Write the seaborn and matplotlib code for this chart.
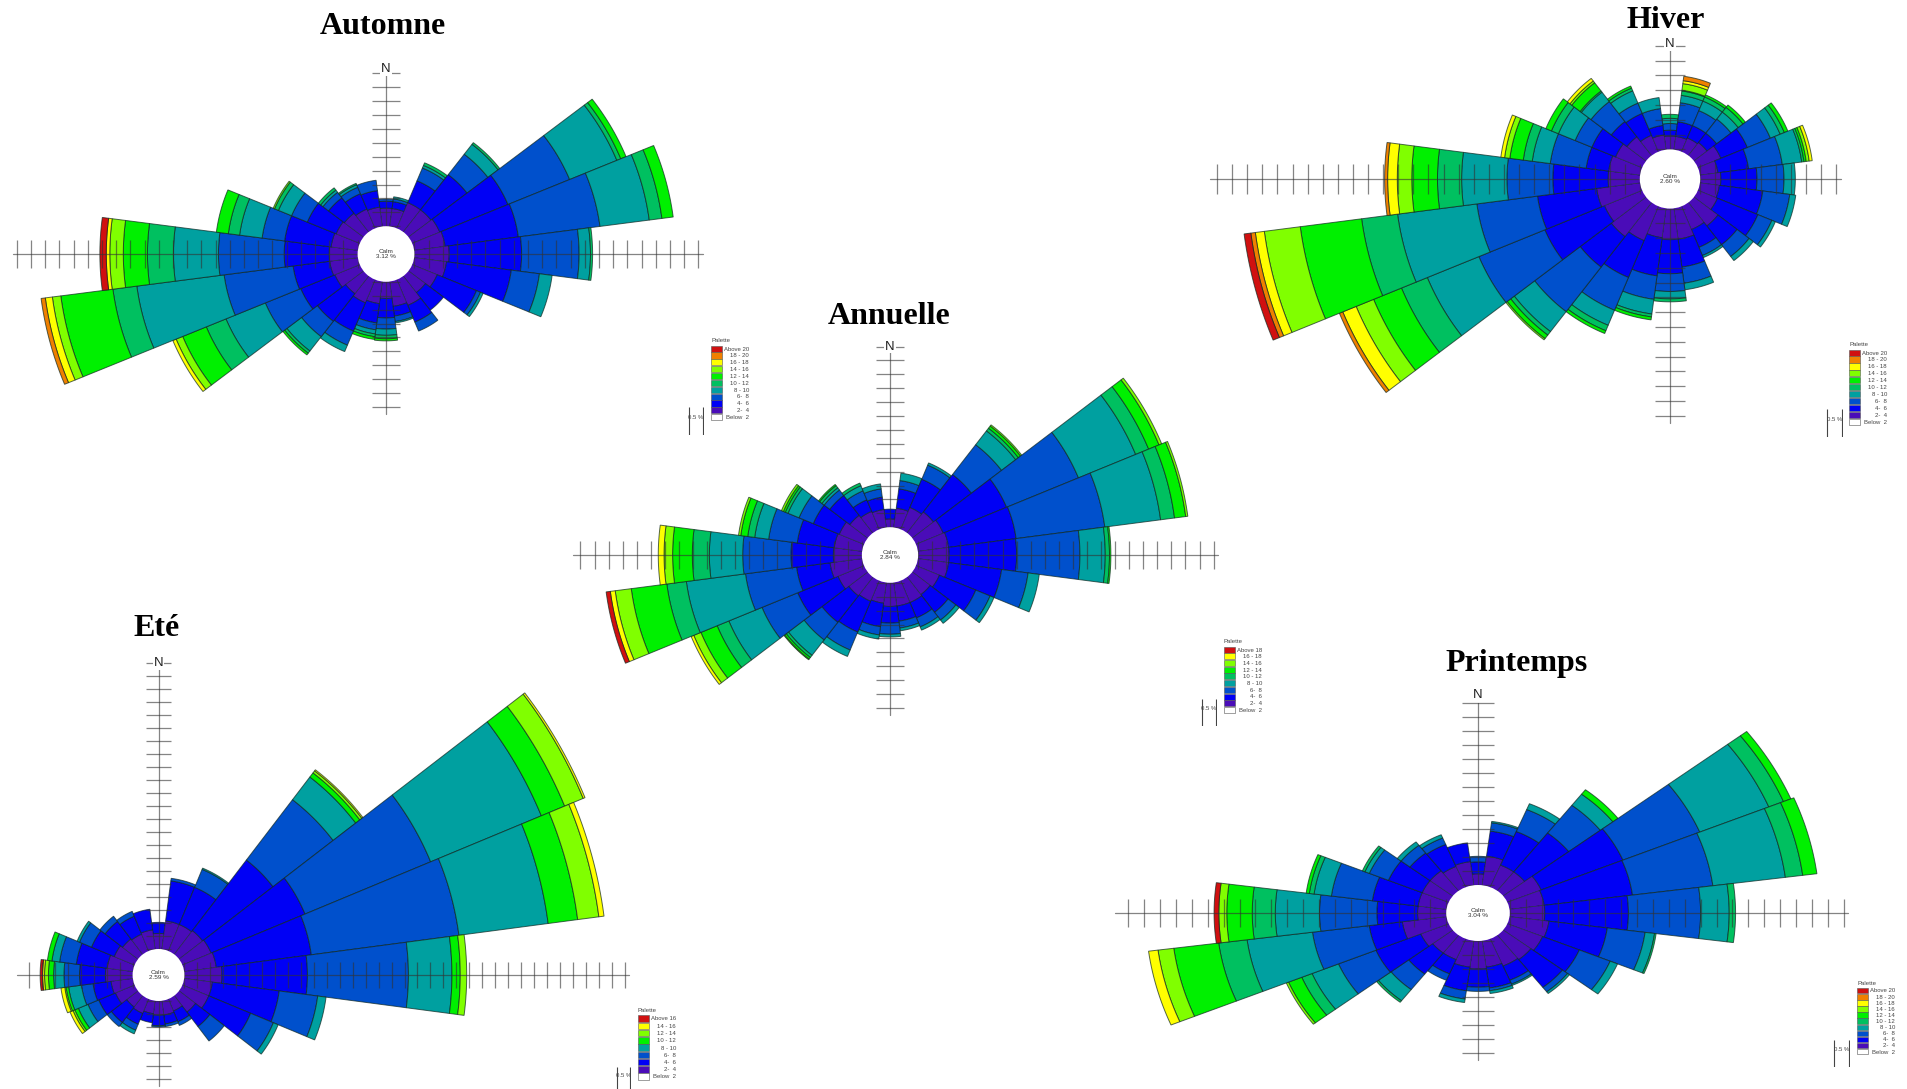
import numpy as np
import matplotlib
matplotlib.use("Agg")
import matplotlib.pyplot as plt
from matplotlib.patches import Ellipse, Rectangle
import seaborn as sns

sns.set_theme(style="white")
plt.rcParams["font.family"] = ["Liberation Sans", "DejaVu Sans"]

W, H = 1907, 1089

# direction of each sector, degrees clockwise from north
bearings = list(range(0, 360, 15))

# outer radius of every speed class per sector, in scale ticks (1 tick = 0.5 %)
automne = [
    [3.3, 3.8, 3.95], [3.3, 3.8, 4.0, 4.15], [4.0, 5.7, 6.7, 6.9, 7.1], [4.0, 7.2, 9.05, 9.95, 10.1],
    [4.1, 9.3, 14.0, 17.6, 17.9, 18.3], [4.2, 9.4, 15.2, 18.7, 19.6, 20.4], [4.45, 9.55, 13.6, 14.4, 14.55],
    [4.3, 8.9, 10.9, 11.8], [3.9, 6.9, 7.2, 7.4], [3.5, 5.1], [4.0, 5.3, 6.0], [3.8, 4.5, 4.9, 5.0],
    [3.2, 4.6, 5.4, 5.85, 6.1, 6.25], [3.6, 5.0, 5.5, 5.8, 6.0, 6.2], [3.8, 6.0, 7.1, 7.6],
    [3.6, 6.1, 7.5, 8.8, 9.0, 9.15], [3.9, 6.5, 9.2, 12.2, 13.7, 15.5, 16.0, 16.25],
    [4.0, 6.6, 11.5, 17.7, 19.4, 23.1, 23.7, 24.2, 24.5], [4.0, 7.17, 11.8, 14.97, 16.8, 18.5, 19.45, 19.7, 19.7, 20.15],
    [3.9, 7.2, 8.8, 10.4, 11.2, 12.05], [3.8, 6.0, 7.2, 8.2, 8.5, 8.5, 8.6], [3.7, 5.1, 5.6, 5.8, 6.0],
    [3.5, 4.7, 5.2, 5.4, 5.5], [3.4, 4.6, 5.35],
]
annuelle = [
    [2.6, 3.3], [3.4, 4.8, 5.4, 5.94], [3.7, 5.9, 7.0, 7.17], [3.9, 7.3, 10.0, 11.26, 11.5, 11.7, 11.8],
    [4.1, 8.97, 14.5, 18.9, 19.9, 20.7, 20.9], [4.2, 9.04, 15.4, 19.4, 20.4, 21.2, 21.35], [4.2, 9.0, 13.5, 15.3, 15.6, 15.7],
    [4.2, 8.0, 9.9, 10.7], [3.8, 6.6, 7.7, 8.0], [3.6, 5.2, 5.9, 6.2], [3.7, 4.9, 5.6, 5.85], [3.7, 4.8, 5.3, 5.5],
    [3.7, 4.9, 5.7, 5.9], [3.5, 5.2, 5.8, 6.1], [3.6, 6.0, 7.4, 7.9], [3.7, 6.1, 7.7, 9.1, 9.3, 9.45, 9.5],
    [4.0, 7.1, 9.85, 12.4, 13.3, 14.55, 15.1, 15.3], [4.3, 6.7, 10.36, 14.6, 16.0, 18.55, 19.7, 20.05, 20.35],
    [4.03, 7.04, 10.47, 12.84, 14.05, 15.45, 16.06, 16.47], [4.0, 6.65, 8.7, 9.7, 10.2, 10.7, 10.86],
    [3.9, 5.9, 7.0, 7.85, 8.05, 8.2, 8.35], [3.6, 5.4, 5.9, 6.1, 6.3, 6.4], [3.4, 4.3, 5.0, 5.4, 5.6], [3.3, 4.2, 4.8, 5.16],
]
hiver = [
    [2.9, 3.3, 3.75, 4.1, 4.37], [2.9, 3.9, 5.2, 5.7, 6.0, 6.05, 6.5, 6.7, 7.0], [3.0, 3.9, 5.0, 5.7, 6.0, 6.15],
    [3.1, 3.9, 5.1, 5.7, 6.1, 6.3], [3.65, 5.55, 7.2, 7.9, 8.2, 8.45], [3.2, 5.25, 7.5, 8.8, 8.95, 9.1, 9.3, 9.5],
    [3.37, 5.76, 7.55, 8.3], [3.3, 6.2, 8.0, 8.4], [3.4, 6.3, 7.3, 7.55], [4.0, 5.6, 6.6, 6.95], [3.7, 5.0, 5.6, 5.75],
    [4.1, 6.0, 7.1, 7.55], [4.1, 6.4, 7.6, 8.1, 8.3], [4.0, 6.6, 8.2, 9.2, 9.4, 9.6], [4.5, 7.2, 9.6, 10.7, 11.1, 11.3],
    [4.9, 7.5, 11.3, 13.0, 13.3, 13.6, 13.7], [4.7, 8.97, 13.7, 17.4, 19.25, 21.25, 22.5, 23.46, 23.7],
    [4.9, 8.85, 12.9, 18.2, 20.6, 24.7, 27.1, 27.7, 28.0, 28.45], [4.1, 7.76, 10.8, 13.8, 15.4, 17.1, 18.06, 18.7, 18.9],
    [4.1, 5.6, 8.0, 9.2, 9.8, 10.7, 11.05, 11.3], [3.9, 5.6, 6.8, 8.0, 8.5, 8.9], [3.6, 4.9, 6.6, 7.4, 7.5, 8.2, 8.35, 8.57],
    [3.2, 4.8, 5.55, 6.45, 6.65, 6.8], [3.0, 3.65, 4.8, 5.55],
]
ete = [
    [3.2, 4.05], [4.2, 7.3, 7.5], [4.2, 7.3, 8.8, 8.9], [4.3, 11.15, 17.0, 19.2, 19.6, 19.8, 19.9],
    [4.4, 12.25, 22.75, 32.0, 33.95, 35.5, 35.65], [4.5, 11.9, 23.4, 30.35, 32.65, 34.3, 34.7], [4.9, 11.5, 19.3, 22.66, 23.3, 23.8],
    [4.2, 9.4, 12.4, 13.05], [4.2, 7.7, 9.6, 10.0], [3.6, 5.0, 6.4], [3.0, 3.9, 4.2], [3.1, 3.8, 4.0],
    [3.1, 3.9, 4.0], [3.0, 3.7], [3.2, 4.1, 4.6, 4.9], [3.1, 4.6, 5.0],
    [3.6, 5.0, 5.9, 6.7, 7.0, 7.15, 7.4], [3.7, 5.1, 6.0, 7.0, 7.2, 7.3, 7.6], [4.1, 6.1, 7.3, 8.1, 8.5, 8.8, 8.95, 9.14],
    [4.0, 6.4, 7.7, 8.3, 8.65], [3.7, 5.6, 6.6, 6.8], [3.5, 5.2, 5.7], [3.4, 4.9, 5.3], [3.5, 5.1],
]
printemps = [
    [2.8, 3.65, 4.05], [4.1, 5.9, 6.5, 6.6], [3.7, 6.3, 8.0, 8.45], [3.7, 7.2, 9.7, 10.7, 10.7, 11.1],
    [4.3, 9.87, 15.1, 19.8, 20.8, 21.3], [4.2, 9.8, 14.9, 19.5, 20.6, 21.5], [4.2, 9.46, 14.0, 15.8, 16.2],
    [4.5, 8.2, 10.6, 11.2, 11.3], [4.4, 6.9, 9.0, 9.5], [4.2, 6.7, 7.1, 7.25], [4.1, 5.2, 5.5, 5.6], [3.9, 5.4, 5.6, 5.8],
    [4.0, 5.3, 5.6], [3.9, 5.6, 6.2, 6.45], [3.6, 4.7, 5.2], [3.6, 5.5, 6.9, 7.9, 8.04],
    [3.9, 6.95, 9.5, 11.3, 12.0, 12.9, 13.05], [4.8, 6.9, 10.5, 14.65, 16.45, 19.3, 20.3, 20.9],
    [3.8, 6.36, 9.97, 12.75, 14.2, 15.8, 16.3, 16.3, 16.3, 16.6], [3.8, 6.7, 9.3, 10.4, 10.7, 10.9],
    [3.8, 6.1, 7.4, 7.7, 7.87], [3.8, 5.4, 6.1, 6.4], [3.6, 5.3, 5.8, 6.05], [3.7, 5.05],
]

# speed classes, slowest first
class_names = ["2-  4", "4-  6", "6-  8", "8 - 10", "10 - 12", "12 - 14", "14 - 16", "16 - 18", "18 - 20"]
purple, blue, midblue, teal = "#4a0cb8", "#0000f5", "#0050cc", "#00a0a0"
green, bright, yellowgreen, yellow, orange, red = "#00c060", "#00f000", "#80ff00", "#ffff00", "#f08000", "#d01010"
full_colors = [purple, blue, midblue, teal, green, bright, yellowgreen, yellow, orange, red]
annuelle_colors = [purple, blue, midblue, teal, green, bright, yellowgreen, yellow, red]
ete_colors = [purple, blue, midblue, teal, bright, yellowgreen, yellow, red]

calm_labels = {"Automne": "3.12 %", "Annuelle": "2.84 %", "Hiver": "2.60 %", "Eté": "2.59 %", "Printemps": "3.04 %"}

# placement in pixels of the picture: centre, tick size x/y, axis arm lengths in ticks
roses = [
    dict(name="Automne", radii=automne, colors=full_colors, cx=386, cy=254, sx=14.2, sy=13.9,
         left=26, right=22, top=13, bottom=11, left_ext=0.25, n_y=13.3, title=(383, 27), top_legend="Above 20",
         swatch=(711, 349, 6.85), bar=(689, 703, 407, 435)),
    dict(name="Annuelle", radii=annuelle, colors=annuelle_colors, cx=890, cy=555, sx=14.07, sy=13.9,
         left=22, right=23, top=15, bottom=11, left_ext=0.5, n_y=15, title=(889, 316), top_legend="Above 18",
         swatch=(1224, 650, 6.7), bar=(1202, 1216, 699, 726)),
    dict(name="Hiver", radii=hiver, colors=full_colors, cx=1670, cy=179, sx=15.1, sy=14.8,
         left=30, right=11, top=9, bottom=16, left_ext=0.45, n_y=9.1, title=(1666, 20), top_legend="Above 20",
         swatch=(1849, 353, 6.9), bar=(1827, 1842, 409, 437)),
    dict(name="Eté", radii=ete, colors=ete_colors, cx=158.5, cy=975, sx=12.95, sy=13,
         left=10, right=36, top=24, bottom=8, left_ext=0.9, n_y=24, title=(157, 628), top_legend="Above 16",
         swatch=(638, 1019, 7.25), bar=(617, 630, 1067, 1089)),
    dict(name="Printemps", radii=printemps, colors=full_colors, cx=1478, cy=913, sx=15.9, sy=14,
         left=22, right=23, top=15, bottom=10, left_ext=0.8, n_y=15.6, title=(1517, 663), top_legend="Above 20",
         swatch=(1857, 991, 6.1), bar=(1834, 1849, 1040, 1067)),
]

sns.set_palette(full_colors)
fig = plt.figure(figsize=(W / 100, H / 100), dpi=100, facecolor="white")
EDGE = (0.05, 0.15, 0.12, 0.7)


def pixel_axes(x0, y0, x1, y1):
    ax = fig.add_axes([x0 / W, 1 - y1 / H, (x1 - x0) / W, (y1 - y0) / H])
    ax.set_axis_off()
    ax.patch.set_alpha(0)
    return ax


def draw_rose(r):
    xl, xr = r["left"] + 2, r["right"] + 2
    yb, yt = r["bottom"] + 2, r["top"] + 2
    ax = pixel_axes(r["cx"] - xl * r["sx"], r["cy"] - yt * r["sy"], r["cx"] + xr * r["sx"], r["cy"] + yb * r["sy"])
    ax.set_xlim(-xl, xr)
    ax.set_ylim(-yb, yt)

    for bearing, edges in zip(bearings, r["radii"]):
        th = np.radians(np.linspace(bearing - 7.5, bearing + 7.5, 16))
        inner = 1.9
        for k, outer in enumerate(edges):
            if outer > inner:
                xs = np.r_[outer * np.sin(th), inner * np.sin(th[::-1])]
                ys = np.r_[outer * np.cos(th), inner * np.cos(th[::-1])]
                # thinner lines in the crowded inner ring
                ax.fill(xs, ys, facecolor=r["colors"][k], edgecolor=EDGE, linewidth=0.45 if k == 0 else 0.7, zorder=2)
            inner = outer

    # scale arms and their ticks
    arm = dict(color="#333333", linewidth=0.9, alpha=0.6, zorder=3)
    ax.plot([-r["left"] - r["left_ext"], r["right"] + 0.3], [0, 0], **arm)
    ax.plot([0, 0], [-r["bottom"] - 0.5, r["top"]], **arm)
    ax.vlines(np.r_[-r["left"]:0, 1:r["right"] + 1], -1, 1, **arm)
    ax.hlines(np.r_[-r["bottom"]:0, 1:r["top"] + 1], -1, 1, **arm)

    ax.add_patch(Ellipse((0, 0), 4, 4, facecolor="white", edgecolor="none", zorder=4))
    ax.text(0, 0, "Calm\n" + calm_labels[r["name"]], ha="center", va="center", fontsize=4.6, color="#333333", zorder=5)
    ax.text(0, r["n_y"], "N", ha="center", va="center", fontsize=9.5, color="#222222", zorder=5,
            bbox=dict(facecolor="white", edgecolor="none", pad=0.6))
    fig.text(r["title"][0] / W, 1 - r["title"][1] / H, r["name"], ha="center", va="center", fontsize=23,
             fontweight="bold", family="Liberation Serif", color="black")


def draw_legend(r):
    x0, y0, step = r["swatch"]
    labels = [r["top_legend"]] + class_names[:len(r["colors"]) - 1][::-1] + ["Below  2"]
    colors = r["colors"][::-1] + ["white"]
    ax = pixel_axes(x0 - 4, y0 - 2.5 * step, x0 + 44, y0 + (len(labels) + 0.5) * step)
    ax.set_xlim(-4, 44)
    ax.set_ylim(len(labels) + 0.5, -2.5)
    for i, (lab, col) in enumerate(zip(labels, colors)):
        ax.add_patch(Rectangle((0, i - 0.5), 11, 0.9, facecolor=col, edgecolor="#555555", linewidth=0.4))
        ax.text(38, i, lab, ha="right", va="center", fontsize=4.3, color="#444444")
    ax.text(0, -1.2, "Palette", ha="left", va="center", fontsize=4.3, color="#444444")

    xa, xb, ya, yb = r["bar"]
    bar = pixel_axes(xa - 1, ya, xb + 1, yb)
    bar.set_xlim(xa - 1, xb + 1)
    bar.set_ylim(yb, ya)
    bar.vlines([xa, xb], ya, yb, color="#444444", linewidth=0.8)
    bar.text((xa + xb) / 2, ya + 0.37 * (yb - ya), "0.5 %", ha="center", va="center", fontsize=4.3, color="#444444")


for r in roses:
    draw_rose(r)
    draw_legend(r)

fig.savefig("out.png", dpi=100)
